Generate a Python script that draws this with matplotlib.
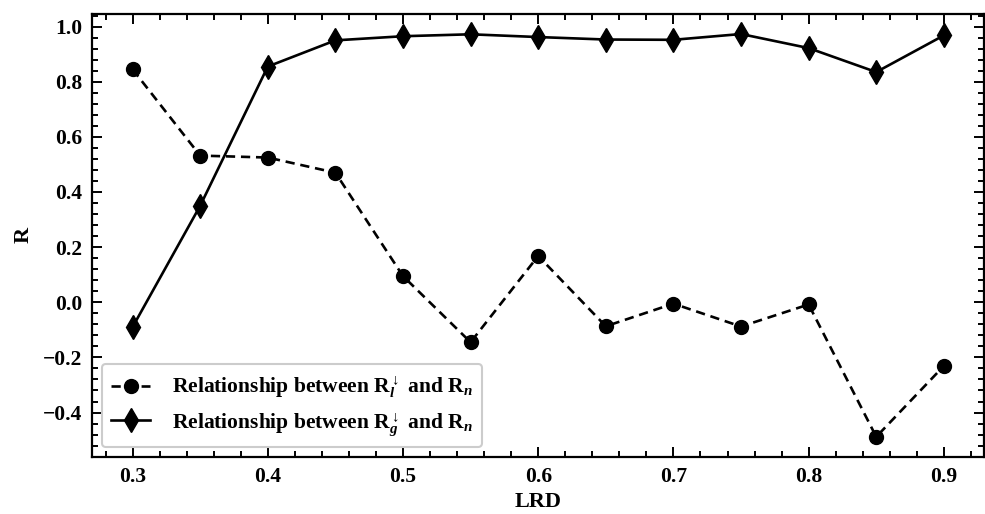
import matplotlib
matplotlib.use("Agg")
import matplotlib.pyplot as plt
from matplotlib.ticker import AutoMinorLocator

plt.rcParams.update({
    "font.family": "Liberation Serif",
    "font.weight": "bold",
    "mathtext.fontset": "custom",
    "mathtext.rm": "Liberation Serif:bold",
    "mathtext.it": "Liberation Serif:italic:bold",
    "mathtext.bf": "Liberation Serif:bold",
    "axes.linewidth": 1.6,
})

lrd = [0.30, 0.35, 0.40, 0.45, 0.50, 0.55, 0.60, 0.65, 0.70, 0.75, 0.80, 0.85, 0.90]
r_longwave = [0.845, 0.532, 0.525, 0.470, 0.095, -0.145, 0.168, -0.087, -0.005,
              -0.088, -0.008, -0.488, -0.231]
r_global = [-0.090, 0.350, 0.855, 0.950, 0.965, 0.972, 0.962, 0.953, 0.952,
            0.973, 0.922, 0.835, 0.968]

label_l = r"Relationship between R$_{l}^{\downarrow}$ and R$_{n}$"
label_g = r"Relationship between R$_{g}^{\downarrow}$ and R$_{n}$"

fig = plt.figure(figsize=(9.85, 5.14), dpi=100)
ax = fig.add_axes([0.0934, 0.111, 0.906, 0.862])

ax.plot(lrd, r_longwave, color="black", linestyle=(0, (3.5, 2.2)), linewidth=1.9,
        marker="o", markersize=10, label=label_l)
ax.plot(lrd, r_global, color="black", linestyle="-", linewidth=1.9,
        marker="d", markersize=12, label=label_g)

ax.xaxis.set_minor_locator(AutoMinorLocator(5))
ax.yaxis.set_minor_locator(AutoMinorLocator(5))
ax.tick_params(which="both", direction="in", top=True, right=True, width=1.4)
ax.tick_params(which="major", length=7, labelsize=15.5, pad=7)
ax.tick_params(which="minor", length=4)
for lbl in ax.get_xticklabels() + ax.get_yticklabels():
    lbl.set_fontweight("bold")

ax.set_xlabel("LRD", fontsize=16, fontweight="bold", labelpad=4)
ax.set_ylabel("R", fontsize=16, fontweight="bold", labelpad=7)

leg = ax.legend(loc="lower left", fontsize=15.5, frameon=True, fancybox=True,
                edgecolor="#cccccc", framealpha=1.0, handlelength=1.8,
                handletextpad=1.0, borderaxespad=0.45, labelspacing=0.45,
                borderpad=0.45)
leg.get_frame().set_linewidth(1.5)

fig.savefig("out.png", dpi=100)
